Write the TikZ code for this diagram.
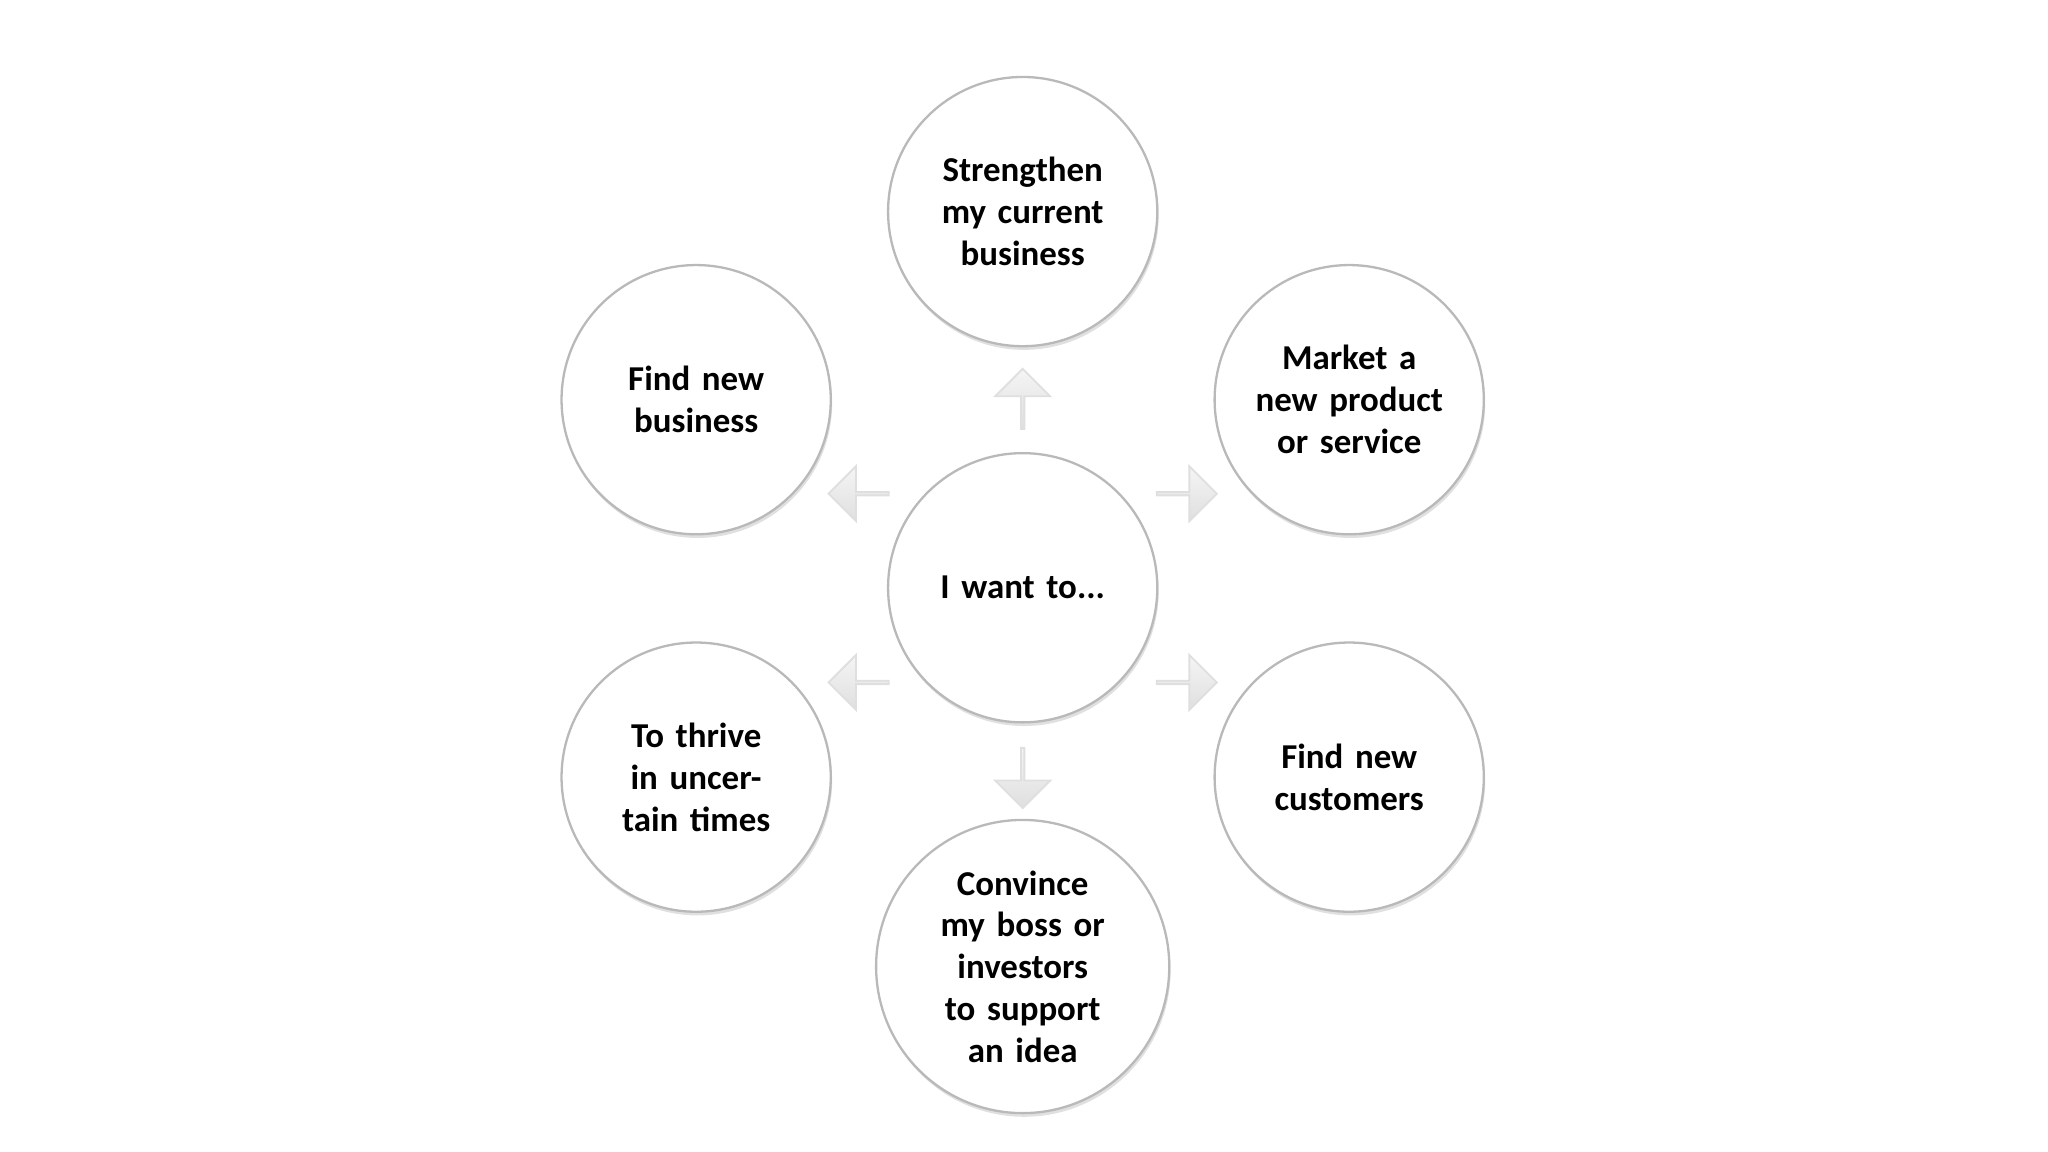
\documentclass[tikz,border=0pt]{standalone}
\usepackage{fontspec}
\setmainfont{Carlito}
\usetikzlibrary{shapes.arrows,shadows,calc}
\begin{document}
\begin{tikzpicture}[x=0.01cm,y=-0.01cm,
  circ/.style={circle,draw=gray!55,line width=0.5pt,fill=white,minimum size=2.06cm,inner sep=0pt,
    align=center,text width=1.7cm,font=\fontsize{7.6}{9.1}\selectfont\bfseries,
    drop shadow={shadow xshift=0.3pt,shadow yshift=-0.8pt,fill=gray!40,opacity=0.6}},
  arr/.style={single arrow,draw=gray!25,top color=gray!8,bottom color=gray!25,inner sep=0pt,
    minimum width=0.42cm,minimum height=0.46cm,single arrow head extend=0.11cm,
    single arrow head indent=0pt}]
\useasboundingbox (0,0) rectangle (1568,882);
\node[circ] (c) at (783,450) {I want to...};
\node[circ] (t) at (783,162) {Strengthen my current business};
\node[circ] (b) at (783,740) {Convince my boss or investors to support an idea};
\node[circ] (ul) at (533,306) {Find new business};
\node[circ] (ur) at (1033,306) {Market a new product or service};
\node[circ] (ll) at (533,595) {To thrive in uncertain times};
\node[circ] (lr) at (1033,595) {Find new customers};
\node[arr,shape border rotate=90] (a1) at ($(c)!0.5!(t)$) {};
\node[arr,shape border rotate=270] (a2) at ($(c)!0.5!(b)$) {};
\node[arr,shape border rotate=150] (a3) at ($(c)!0.5!(ul)$) {};
\node[arr,shape border rotate=30] (a4) at ($(c)!0.5!(ur)$) {};
\node[arr,shape border rotate=210] (a5) at ($(c)!0.5!(ll)$) {};
\node[arr,shape border rotate=330] (a6) at ($(c)!0.5!(lr)$) {};
\end{tikzpicture}
\end{document}
